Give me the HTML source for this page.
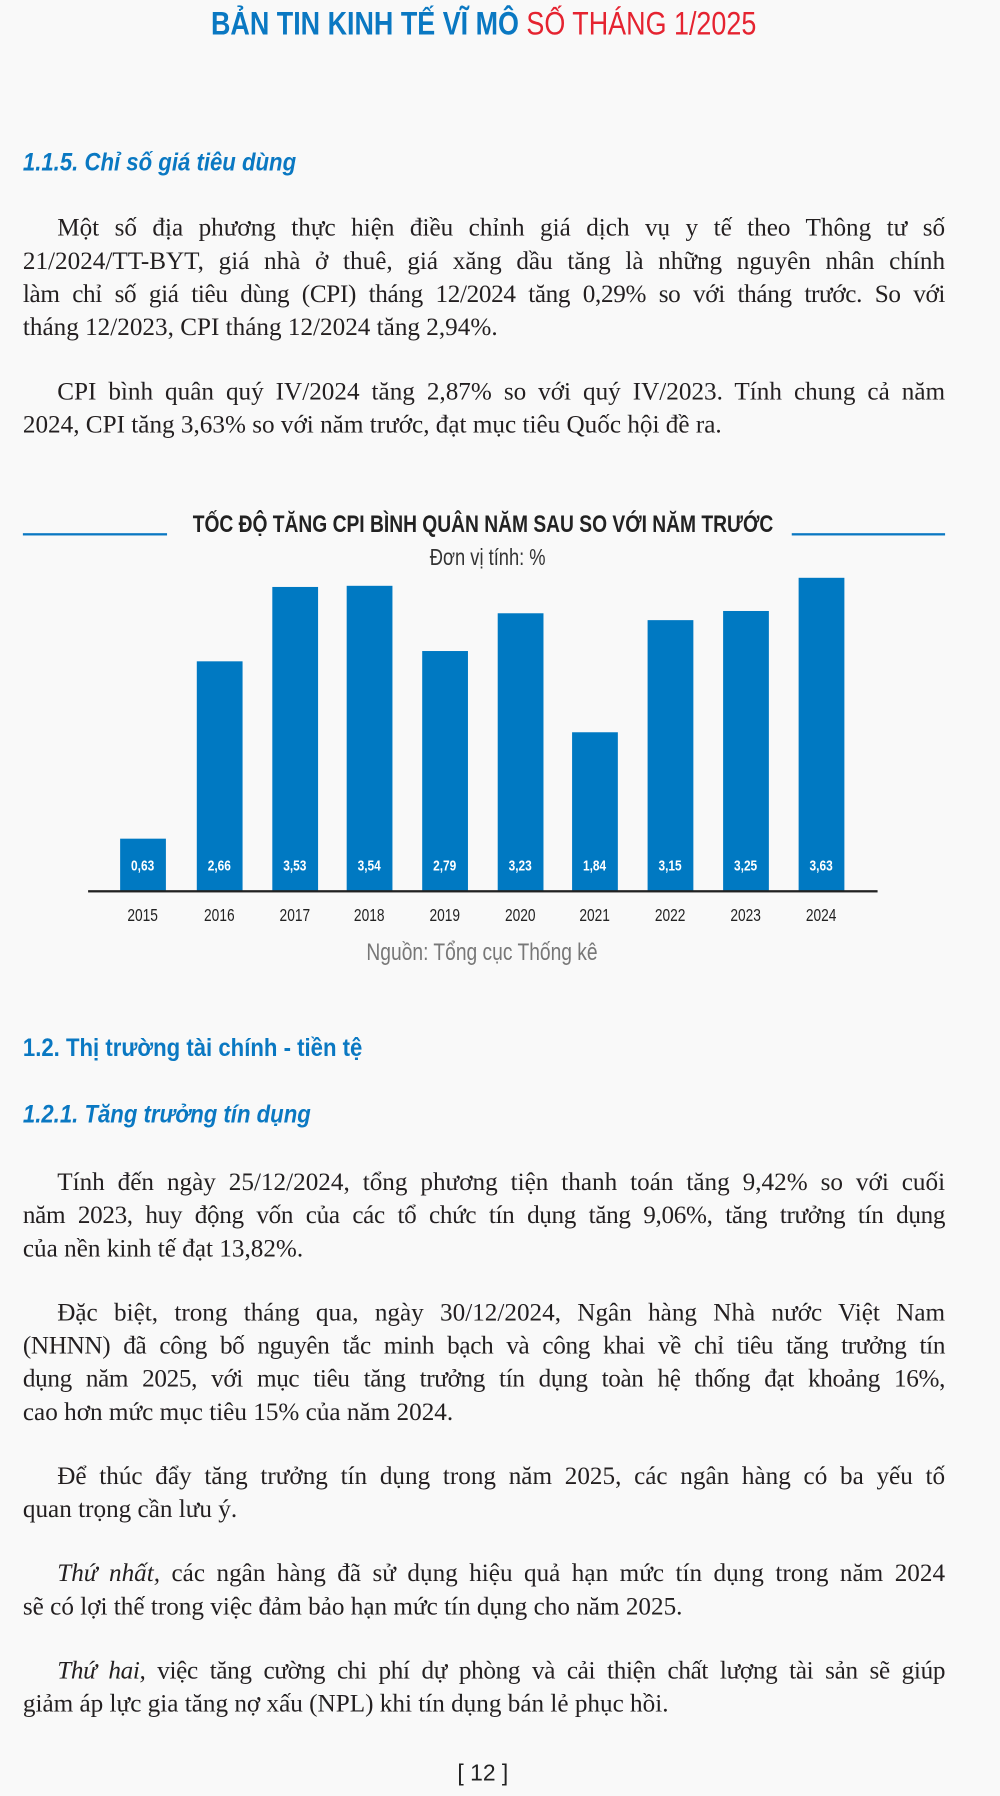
<!DOCTYPE html>
<html><head><meta charset="utf-8">
<style>
html,body{margin:0;padding:0;background:#f9f9f9;}
body{width:1000px;height:1796px;overflow:hidden;position:relative;}
#w{position:absolute;left:0;top:0;width:874px;height:1570px;transform:scale(1.14416);transform-origin:0 0;}
.a{position:absolute;white-space:nowrap;}
.sans{font-family:"Liberation Sans",sans-serif;}
.c{display:inline-block;transform:scaleX(0.8);transform-origin:50% 50%;}
.cl{display:inline-block;transform:scaleX(0.88);transform-origin:0 50%;}
.p{position:absolute;left:20px;width:806px;font-family:"Liberation Serif",serif;font-size:22px;line-height:29px;height:29px;color:#231f20;white-space:nowrap;text-align:justify;text-align-last:justify;}
.p.l{text-align-last:left;}
.i{padding-left:30px;width:776px;}
.h{font-family:"Liberation Sans",sans-serif;font-weight:bold;color:#0a78c2;font-size:22px;}
.bar{position:absolute;width:40px;background:#0079c2;}
.v{position:absolute;width:40px;text-align:center;color:#fff;font-weight:bold;font-size:13px;top:749px;font-family:"Liberation Sans",sans-serif;}
.y{position:absolute;width:60px;text-align:center;color:#222;font-size:15px;top:792px;font-family:"Liberation Sans",sans-serif;}
</style></head><body><div id="w">
<div class="a sans" style="left:0;width:846px;text-align:center;top:5px;font-size:28px;font-weight:bold;color:#0a78c2;"><span class="c" style="transform:scaleX(0.84)">BẢN TIN KINH TẾ VĨ MÔ <span style="color:#e52330;font-weight:normal">SỐ THÁNG 1/2025</span></span></div>

<div class="a h" style="left:20px;top:129px;font-style:italic;"><span class="cl">1.1.5. Chỉ số giá tiêu dùng</span></div>

<div class="p i" style="top:184px">Một số địa phương thực hiện điều chỉnh giá dịch vụ y tế theo Thông tư số</div>
<div class="p" style="top:213px">21/2024/TT-BYT, giá nhà ở thuê, giá xăng dầu tăng là những nguyên nhân chính</div>
<div class="p" style="top:242px;letter-spacing:-0.3px">làm chỉ số giá tiêu dùng (CPI) tháng 12/2024 tăng 0,29% so với tháng trước. So với</div>
<div class="p l" style="top:271px">tháng 12/2023, CPI tháng 12/2024 tăng 2,94%.</div>
<div class="p i" style="top:327px">CPI bình quân quý IV/2024 tăng 2,87% so với quý IV/2023. Tính chung cả năm</div>
<div class="p l" style="top:356px">2024, CPI tăng 3,63% so với năm trước, đạt mục tiêu Quốc hội đề ra.</div>

<div class="a" style="left:20px;top:466px;width:126px;height:2px;background:#0a78c2"></div>
<div class="a" style="left:692px;top:466px;width:134px;height:2px;background:#0a78c2"></div>
<div class="a sans" style="left:0;width:844px;text-align:center;top:447px;font-size:21px;font-weight:bold;color:#222;"><span class="c">TỐC ĐỘ TĂNG CPI BÌNH QUÂN NĂM SAU SO VỚI NĂM TRƯỚC</span></div>
<div class="a sans" style="left:0;width:852px;text-align:center;top:477px;font-size:20px;color:#333;"><span class="c">Đơn vị tính: %</span></div>

<div class="bar" style="left:105px;top:733px;height:46px"></div>
<div class="bar" style="left:172px;top:578px;height:201px"></div>
<div class="bar" style="left:238px;top:513px;height:266px"></div>
<div class="bar" style="left:303px;top:512px;height:267px"></div>
<div class="bar" style="left:369px;top:569px;height:210px"></div>
<div class="bar" style="left:435px;top:536px;height:243px"></div>
<div class="bar" style="left:500px;top:640px;height:139px"></div>
<div class="bar" style="left:566px;top:542px;height:237px"></div>
<div class="bar" style="left:632px;top:534px;height:245px"></div>
<div class="bar" style="left:698px;top:505px;height:274px"></div>
<div class="a" style="left:77px;top:778px;width:690px;height:2px;background:#222"></div>

<div class="v" style="left:105px"><span class="c">0,63</span></div><div class="v" style="left:172px"><span class="c">2,66</span></div><div class="v" style="left:238px"><span class="c">3,53</span></div><div class="v" style="left:303px"><span class="c">3,54</span></div><div class="v" style="left:369px"><span class="c">2,79</span></div><div class="v" style="left:435px"><span class="c">3,23</span></div><div class="v" style="left:500px"><span class="c">1,84</span></div><div class="v" style="left:566px"><span class="c">3,15</span></div><div class="v" style="left:632px"><span class="c">3,25</span></div><div class="v" style="left:698px"><span class="c">3,63</span></div>
<div class="y" style="left:95px"><span class="c">2015</span></div><div class="y" style="left:162px"><span class="c">2016</span></div><div class="y" style="left:228px"><span class="c">2017</span></div><div class="y" style="left:293px"><span class="c">2018</span></div><div class="y" style="left:359px"><span class="c">2019</span></div><div class="y" style="left:425px"><span class="c">2020</span></div><div class="y" style="left:490px"><span class="c">2021</span></div><div class="y" style="left:556px"><span class="c">2022</span></div><div class="y" style="left:622px"><span class="c">2023</span></div><div class="y" style="left:688px"><span class="c">2024</span></div>
<div class="a sans" style="left:0;width:842px;text-align:center;top:821px;font-size:21px;color:#777;"><span class="c">Nguồn: Tổng cục Thống kê</span></div>

<div class="a h" style="left:20px;top:903px;"><span class="cl">1.2. Thị trường tài chính - tiền tệ</span></div>
<div class="a h" style="left:20px;top:961px;font-style:italic;"><span class="cl">1.2.1. Tăng trưởng tín dụng</span></div>

<div class="p i" style="top:1018px">Tính đến ngày 25/12/2024, tổng phương tiện thanh toán tăng 9,42% so với cuối</div>
<div class="p" style="top:1047px;letter-spacing:-0.3px">năm 2023, huy động vốn của các tổ chức tín dụng tăng 9,06%, tăng trưởng tín dụng</div>
<div class="p l" style="top:1076px">của nền kinh tế đạt 13,82%.</div>
<div class="p i" style="top:1132px">Đặc biệt, trong tháng qua, ngày 30/12/2024, Ngân hàng Nhà nước Việt Nam</div>
<div class="p" style="top:1161px;letter-spacing:-0.3px">(NHNN) đã công bố nguyên tắc minh bạch và công khai về chỉ tiêu tăng trưởng tín</div>
<div class="p" style="top:1190px;letter-spacing:-0.3px">dụng năm 2025, với mục tiêu tăng trưởng tín dụng toàn hệ thống đạt khoảng 16%,</div>
<div class="p l" style="top:1219px">cao hơn mức mục tiêu 15% của năm 2024.</div>
<div class="p i" style="top:1275px">Để thúc đẩy tăng trưởng tín dụng trong năm 2025, các ngân hàng có ba yếu tố</div>
<div class="p l" style="top:1304px">quan trọng cần lưu ý.</div>
<div class="p i" style="top:1360px"><i>Thứ nhất,</i> các ngân hàng đã sử dụng hiệu quả hạn mức tín dụng trong năm 2024</div>
<div class="p l" style="top:1389px">sẽ có lợi thế trong việc đảm bảo hạn mức tín dụng cho năm 2025.</div>
<div class="p i" style="top:1445px;letter-spacing:-0.3px"><i>Thứ hai,</i> việc tăng cường chi phí dự phòng và cải thiện chất lượng tài sản sẽ giúp</div>
<div class="p l" style="top:1474px">giảm áp lực gia tăng nợ xấu (NPL) khi tín dụng bán lẻ phục hồi.</div>

<div class="a sans" style="left:0;width:844px;text-align:center;top:1539px;font-size:20px;color:#222;">[ 12 ]</div>
</div></body></html>
